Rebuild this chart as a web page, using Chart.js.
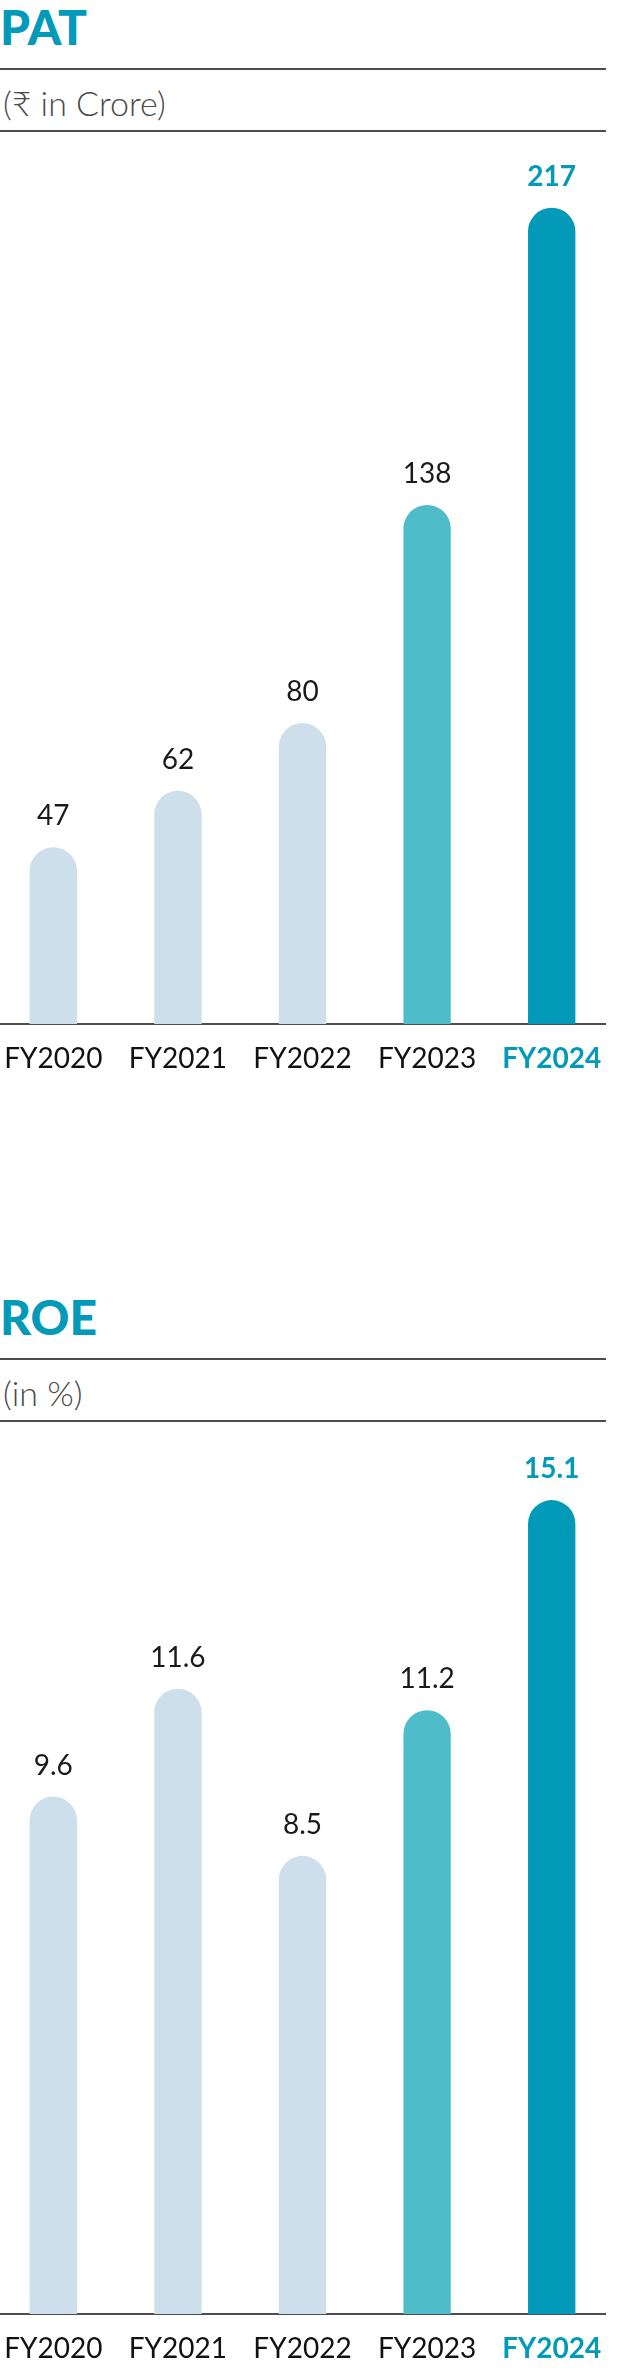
<!DOCTYPE html>
<html>
<head>
<meta charset="utf-8">
<script src="https://cdn.jsdelivr.net/npm/chart.js@4"></script>
<style>
  body { margin: 0; background: #fff; width: 618px; height: 2370px; position: relative; overflow: hidden; font-family: Lato, sans-serif; }
  .title { position: absolute; left: 0; font-size: 48px; font-weight: 900; line-height: 1; color: #029ab8; }
  .sub { position: absolute; left: 3px; font-size: 34px; font-weight: 300; line-height: 1; color: #4a4a4a; }
  .rule { position: absolute; left: 0; width: 606px; height: 2px; background: #4d4d4d; }
  .clip { position: absolute; left: 0; width: 606px; height: 944px; overflow: hidden; }
  .inner { position: absolute; left: -9px; top: 0; width: 623px; height: 944px; }
</style>
</head>
<body>
<div class="title" style="top:3px">PAT</div>
<div class="rule" style="top:68px"></div>
<div class="sub" style="top:86px">(₹ in Crore)</div>
<div class="rule" style="top:130px"></div>
<div class="clip" style="top:140px"><div class="inner"><canvas id="patChart"></canvas></div></div>

<div class="title" style="top:1293px">ROE</div>
<div class="rule" style="top:1358px"></div>
<div class="sub" style="top:1376px">(in %)</div>
<div class="rule" style="top:1420px"></div>
<div class="clip" style="top:1430px"><div class="inner"><canvas id="roeChart"></canvas></div></div>

<script>
const years = ['FY2020', 'FY2021', 'FY2022', 'FY2023', 'FY2024'];
const patValues = [47, 62, 80, 138, 217];
const roeValues = [9.6, 11.6, 8.5, 11.2, 15.1];
const barColors = ['#cddfea', '#cddfea', '#cddfea', '#4fbcc9', '#029ab8'];

// value printed above each bar, last one bold teal
const valueLabels = {
    id: 'valueLabels',
    afterDatasetsDraw(chart, args, opts) {
        const ctx = chart.ctx;
        const data = chart.data.datasets[0].data;
        chart.getDatasetMeta(0).data.forEach((bar, i) => {
            const last = i === data.length - 1;
            ctx.save();
            ctx.font = (last ? '700 ' : '400 ') + '28px Lato';
            ctx.fillStyle = last ? '#029ab8' : '#1a1a1a';
            ctx.textAlign = 'center';
            ctx.textBaseline = 'alphabetic';
            ctx.fillText(opts.decimals ? data[i].toFixed(opts.decimals) : String(data[i]), bar.x, bar.y - 22);
            ctx.restore();
        });
    }
};

function makeChart(id, values, yMax, decimals) {
    const ctx = document.getElementById(id).getContext('2d');
    return new Chart(ctx, {
        type: 'bar',
        data: {
            labels: years,
            datasets: [{
                data: values,
                backgroundColor: barColors,
                borderRadius: { topLeft: 24, topRight: 24 },
                borderSkipped: 'bottom',
                categoryPercentage: 1,
                barPercentage: 0.38
            }]
        },
        options: {
            responsive: true,
            maintainAspectRatio: false,
            animation: false,
            devicePixelRatio: 1,
            layout: { padding: 0 },
            plugins: {
                legend: { display: false },
                tooltip: { enabled: false },
                valueLabels: { decimals: decimals }
            },
            scales: {
                x: {
                    grid: { display: false, drawTicks: false },
                    border: { display: true, color: '#4d4d4d', width: 2 },
                    ticks: {
                        padding: 18,
                        color: (c) => c.index === 4 ? '#029ab8' : '#111',
                        font: (c) => ({ family: 'Lato', size: 28, weight: c.index === 4 ? '700' : '400' })
                    },
                    // fixed axis height, and no side padding so bars use the full width
                    afterFit: (axis) => {
                        axis.height = 60;
                        axis.paddingLeft = 0;
                        axis.paddingRight = 0;
                    }
                },
                y: {
                    display: false,
                    min: 0,
                    max: yMax
                }
            }
        },
        plugins: [valueLabels]
    });
}

makeChart('patChart', patValues, 235, 0);
makeChart('roeChart', roeValues, 16.4, 1);
</script>
</body>
</html>
